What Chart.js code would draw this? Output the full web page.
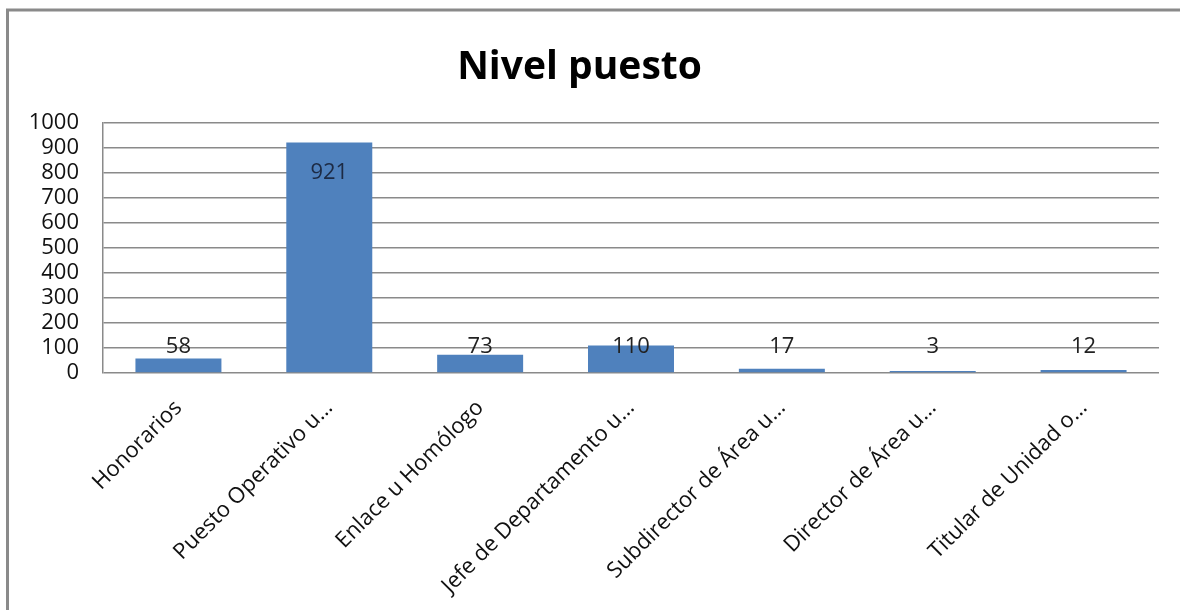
<!DOCTYPE html>
<html>
<head>
<meta charset="utf-8">
<script src="https://cdn.jsdelivr.net/npm/chart.js@4.4.1/dist/chart.umd.min.js"></script>
<style>
  html, body { margin: 0; padding: 0; background: #fff; }
  #wrap { position: relative; width: 1180px; height: 610px; }
</style>
</head>
<body>
<div id="wrap"><canvas id="nivel" width="1180" height="610"></canvas></div>
<script>
// puestos por nivel
const categorias = [
  "Honorarios",
  "Puesto Operativo u…",
  "Enlace u Homólogo",
  "Jefe de Departamento u…",
  "Subdirector de Área u…",
  "Director de Área u…",
  "Titular de Unidad o…"
];
const totales = [58, 921, 73, 110, 17, 3, 12];
const yTicks = [0, 100, 200, 300, 400, 500, 600, 700, 800, 900, 1000];

const FONT = "'Open Sans', sans-serif";

// marco gris del grafico
const marco = {
  id: "marco",
  beforeDraw(chart) {
    const ctx = chart.ctx;
    ctx.save();
    ctx.fillStyle = "#fff";
    ctx.fillRect(0, 0, chart.width, chart.height);
    ctx.strokeStyle = "#8a8a8a";
    ctx.lineWidth = 3;
    ctx.beginPath();
    ctx.moveTo(7.5, chart.height);
    ctx.lineTo(7.5, 10);
    ctx.lineTo(chart.width, 10);
    ctx.stroke();
    ctx.restore();
  }
};

// etiquetas de valor sobre/dentro de cada barra
const etiquetas = {
  id: "etiquetas",
  afterDatasetsDraw(chart) {
    const ctx = chart.ctx;
    const meta = chart.getDatasetMeta(0);
    ctx.save();
    ctx.font = "22px " + FONT;
    ctx.textAlign = "center";
    ctx.textBaseline = "middle";
    meta.data.forEach((bar, i) => {
      const alto = bar.base - bar.y;
      if (alto > 60) {
        ctx.fillStyle = "#1c2a44";
        ctx.fillText(String(totales[i]), bar.x, bar.y + 30);
      } else {
        ctx.fillStyle = "#222";
        ctx.fillText(String(totales[i]), bar.x, bar.base - 26);
      }
    });
    ctx.restore();
  }
};

new Chart(document.getElementById("nivel"), {
  type: "bar",
  data: {
    labels: categorias,
    datasets: [{
      data: totales,
      backgroundColor: "#4f81bd",
      borderWidth: 0,
      barPercentage: 0.57,
      categoryPercentage: 1,
      minBarLength: 2
    }]
  },
  options: {
    responsive: false,
    animation: false,
    layout: { padding: { top: 8, right: 21, left: 0, bottom: 0 } },
    plugins: {
      legend: { display: false },
      tooltip: { enabled: false },
      title: {
        display: true,
        text: "Nivel puesto",
        color: "#000",
        font: { family: FONT, size: 39, weight: "bold" },
        padding: { top: 36, bottom: 32 }
      }
    },
    scales: {
      x: {
        grid: { display: false, drawTicks: false },
        border: { display: false },
        ticks: {
          color: "#111",
          font: { family: FONT, size: 22 },
          minRotation: 45,
          maxRotation: 45,
          autoSkip: false,
          padding: 22
        },
        afterFit(scale) { scale.height = 237; }
      },
      y: {
        min: 0,
        max: 1000,
        afterBuildTicks(scale) { scale.ticks = yTicks.map(v => ({ value: v })); },
        grid: { color: "#8a8a8a", lineWidth: 1.5, drawTicks: false },
        border: { display: true, color: "#8a8a8a", width: 1.5 },
        ticks: {
          color: "#111",
          font: { family: FONT, size: 22, lineHeight: 1 },
          padding: 24,
          autoSkip: false,
          callback: v => String(v)
        },
        afterFit(scale) { scale.width = 103; }
      }
    }
  },
  plugins: [marco, etiquetas]
});
</script>
</body>
</html>
